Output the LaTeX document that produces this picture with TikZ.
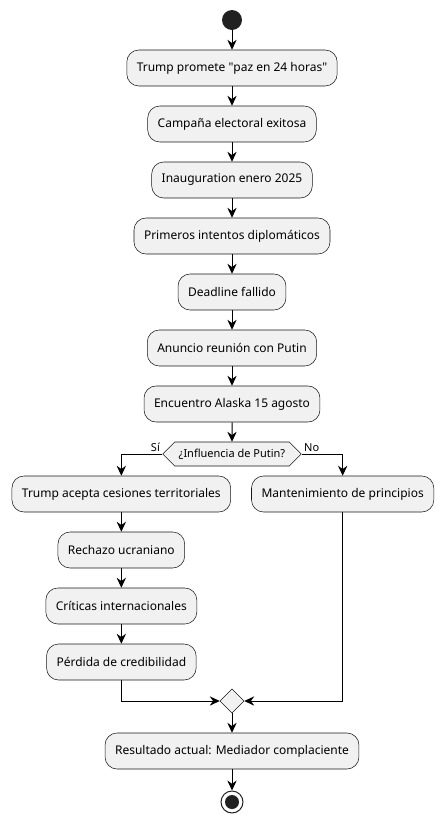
\documentclass[tikz,border=0pt]{standalone}
\usepackage{fontspec}
\setmainfont{Noto Sans}
\usetikzlibrary{shapes.geometric, shapes.symbols, arrows.meta}
\definecolor{boxfill}{HTML}{F1F1F1}
\definecolor{boxline}{HTML}{181818}
\tikzstyle{actbox} = [rectangle, rounded corners=9pt, minimum height=27pt,
    inner xsep=7.5pt, text centered, draw=boxline, line width=0.4pt, fill=boxfill,
    font=\fontsize{9}{11}\selectfont]
\tikzstyle{choice} = [signal, signal to=west and east, minimum height=18pt,
    inner xsep=3pt, draw=boxline, line width=0.4pt, fill=boxfill,
    font=\fontsize{8.25}{10}\selectfont]
\tikzstyle{merge} = [diamond, minimum size=18pt, inner sep=0pt, draw=boxline,
    line width=0.4pt, fill=boxfill]
\tikzstyle{startdot} = [circle, minimum size=15pt, inner sep=0pt, fill=black!87]
\tikzstyle{enddot} = [circle, minimum size=16.5pt, inner sep=0pt, draw=black!87,
    line width=0.75pt, fill=white]
\tikzstyle{arrow} = [line width=0.75pt,->,>={Stealth[length=7.5pt,width=7pt,inset=2.5pt]}]
\tikzstyle{branch} = [font=\fontsize{8.25}{10}\selectfont, inner sep=1.5pt]

\begin{document}
\begin{tikzpicture}[node distance=42pt]
    \useasboundingbox (0,0) rectangle (331.5pt,-616.5pt);

    % main line
    \node (Start) [startdot] at (174pt,-15pt) {};
    \node (Promete) [actbox, below of=Start, yshift=6pt] {Trump promete \textquotedbl paz en 24 horas\textquotedbl};
    \node (Campana) [actbox, below of=Promete] {Campaña electoral exitosa};
    \node (Inauguracion) [actbox, below of=Campana] {Inauguration enero 2025};
    \node (Intentos) [actbox, below of=Inauguracion] {Primeros intentos diplomáticos};
    \node (Deadline) [actbox, below of=Intentos] {Deadline fallido};
    \node (Anuncio) [actbox, below of=Deadline] {Anuncio reunión con Putin};
    \node (Alaska) [actbox, below of=Anuncio] {Encuentro Alaska 15 agosto};
    \node (Influencia) [choice, below of=Alaska, yshift=4.5pt] {¿Influencia de Putin?};

    % rama si
    \node (Acepta) [actbox, below of=Influencia, yshift=12pt, xshift=-83pt] {Trump acepta cesiones territoriales};
    \node (Rechazo) [actbox, below of=Acepta] {Rechazo ucraniano};
    \node (Criticas) [actbox, below of=Rechazo] {Críticas internacionales};
    \node (Perdida) [actbox, below of=Criticas] {Pérdida de credibilidad};

    % rama no
    \node (Principios) [actbox, below of=Influencia, yshift=12pt, xshift=83pt] {Mantenimiento de principios};

    % final
    \node (Merge) [merge] at (174pt,-525.75pt) {};
    \node (Resultado) [actbox, below of=Merge, yshift=4.5pt] {Resultado actual: Mediador complaciente};
    \node (End) [enddot, below of=Resultado, yshift=3.75pt] {};
    \fill [black!87] (End) circle (5.25pt);

    % arrows
    \draw [arrow] (Start) -- (Promete);
    \draw [arrow] (Promete) -- (Campana);
    \draw [arrow] (Campana) -- (Inauguracion);
    \draw [arrow] (Inauguracion) -- (Intentos);
    \draw [arrow] (Intentos) -- (Deadline);
    \draw [arrow] (Deadline) -- (Anuncio);
    \draw [arrow] (Anuncio) -- (Alaska);
    \draw [arrow] (Alaska) -- (Influencia);

    \draw [arrow] (Influencia.west) -| node [branch, pos=0, anchor=south east] {Sí} (Acepta);
    \draw [arrow] (Acepta) -- (Rechazo);
    \draw [arrow] (Rechazo) -- (Criticas);
    \draw [arrow] (Criticas) -- (Perdida);
    \draw [arrow] (Influencia.east) -| node [branch, pos=0, anchor=south west] {No} (Principios);

    \draw [arrow] (Perdida) |- (Merge);
    \draw [arrow] (Principios) |- (Merge);
    \draw [arrow] (Merge) -- (Resultado);
    \draw [arrow] (Resultado) -- (End);
\end{tikzpicture}
\end{document}
